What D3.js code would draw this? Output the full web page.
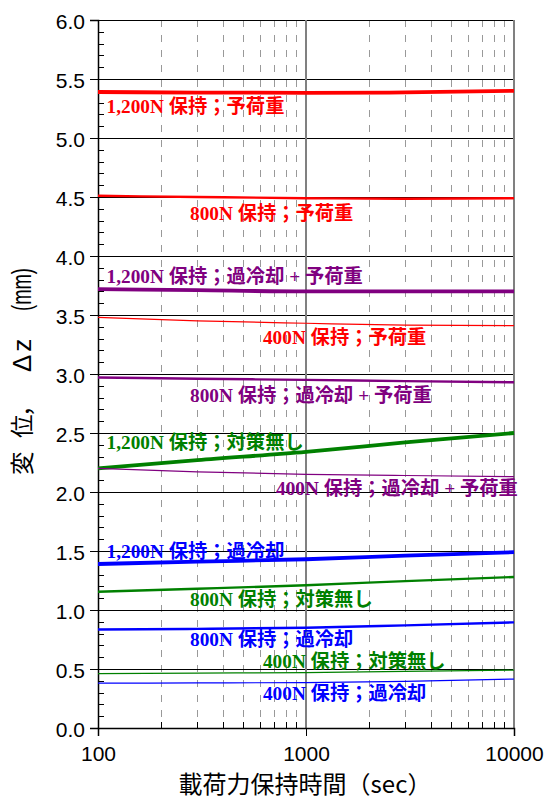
<!DOCTYPE html>
<html><head><meta charset="utf-8">
<script src="https://cdn.jsdelivr.net/npm/d3@7"></script>
<style>body{margin:0;background:#fff}</style>
</head><body><svg id="c" width="547" height="801"></svg>
<script>
// ---- data ----
const times = [100, 300, 1000, 3000, 10000];
const seriesLabels = [
  "1,200N 保持；予荷重",
  "800N 保持；予荷重",
  "1,200N 保持；過冷却 + 予荷重",
  "400N 保持；予荷重",
  "800N 保持；過冷却 + 予荷重",
  "1,200N 保持；対策無し",
  "400N 保持；過冷却 + 予荷重",
  "1,200N 保持；過冷却",
  "800N 保持；対策無し",
  "800N 保持；過冷却",
  "400N 保持；対策無し",
  "400N 保持；過冷却"
];
const seriesLoads = [1200, 800, 1200, 400, 800, 1200, 400, 1200, 800, 800, 400, 400];
const seriesConditions = ["予荷重","予荷重","過冷却+予荷重","予荷重","過冷却+予荷重","対策無し","過冷却+予荷重","過冷却","対策無し","過冷却","対策無し","過冷却"];
const seriesValues = [
  [5.39, 5.385, 5.383, 5.386, 5.40],
  [4.51, 4.50, 4.49, 4.485, 4.49],
  [3.72, 3.71, 3.70, 3.70, 3.70],
  [3.48, 3.45, 3.43, 3.415, 3.41],
  [2.97, 2.96, 2.95, 2.94, 2.93],
  [2.20, 2.27, 2.34, 2.42, 2.50],
  [2.20, 2.17, 2.15, 2.14, 2.13],
  [1.39, 1.41, 1.43, 1.46, 1.49],
  [1.155, 1.18, 1.21, 1.245, 1.28],
  [0.835, 0.84, 0.85, 0.87, 0.895],
  [0.46, 0.465, 0.47, 0.48, 0.49],
  [0.38, 0.382, 0.385, 0.395, 0.415]
];
// label anchors in data units (time, displacement)
const labelTimes = [110, 277, 110, 621, 277, 110, 718, 110, 277, 277, 621, 621];
const labelValues = [5.27, 4.36, 3.83, 3.31, 2.82, 2.42, 2.03, 1.50, 1.09, 0.75, 0.565, 0.295];
const xTicks = [100, 1000, 10000];
const xMinor = [200,300,400,500,600,700,800,900,2000,3000,4000,5000,6000,7000,8000,9000];
const yTicks = [0,0.5,1,1.5,2,2.5,3,3.5,4,4.5,5,5.5,6];
const xTitle = "載荷力保持時間（sec）";
const yTitleCJK = ["変", "位", "，"];
const yTitleSym = "Δz";
const yTitleUnit = "(mm)";

// ---- styles ----
const colorOf = {"予荷重":"#ff0000","過冷却+予荷重":"#800080","対策無し":"#008000","過冷却":"#0000ff"};
const widthOf = {1200:3.8, 800:2.4, 400:1.2};

const svg = d3.select("#c");
const L = 98, R = 514, T = 20, B = 728;
const x = d3.scaleLog().domain([100, 10000]).range([L, R]);
const y = d3.scaleLinear().domain([0, 6]).range([B, T]);
const px = v => Math.round(v) + 0.5;

// grid
const g = svg.append("g");
g.selectAll(".vd").data(xMinor).join("line")
  .attr("x1", d => px(x(d))).attr("x2", d => px(x(d))).attr("y1", T).attr("y2", B)
  .attr("stroke", "#999").attr("stroke-width", 1).attr("stroke-dasharray", "7,8");
g.selectAll(".hg").data(yTicks.filter(d => d > 0)).join("line")
  .attr("x1", L).attr("x2", R).attr("y1", d => px(y(d))).attr("y2", d => px(y(d)))
  .attr("stroke", "#000").attr("stroke-width", 1);
g.selectAll(".vs").data([1000, 10000]).join("line")
  .attr("x1", d => x(d)).attr("x2", d => x(d)).attr("y1", T).attr("y2", B)
  .attr("stroke", "#808080").attr("stroke-width", 2);

// minor inner ticks
const yMinor = d3.range(1, 60).map(i => i / 10).filter(v => Math.abs(v * 2 - Math.round(v * 2)) > 1e-6);
g.selectAll(".ym").data(yMinor).join("line")
  .attr("x1", L).attr("x2", L + 6).attr("y1", d => px(y(d))).attr("y2", d => px(y(d)))
  .attr("stroke", "#000").attr("stroke-width", 1);
g.selectAll(".xm").data(xMinor).join("line")
  .attr("x1", d => px(x(d))).attr("x2", d => px(x(d))).attr("y1", B).attr("y2", B - 6)
  .attr("stroke", "#000").attr("stroke-width", 1);

// axes
const yAxis = d3.axisLeft(y).tickValues(yTicks).tickSize(8).tickFormat(d3.format(".1f")).tickPadding(5);
const yg = svg.append("g").attr("transform", `translate(${L},0)`).call(yAxis);
yg.select(".domain").attr("stroke-width", 1.5);
yg.selectAll(".tick line").attr("shape-rendering", "crispEdges");
yg.selectAll("text").attr("font-family", "'Liberation Sans', Arial, sans-serif").attr("font-size", 21).attr("fill", "#000").attr("dy", "0.4em");
const xAxis = d3.axisBottom(x).tickValues(xTicks).tickSize(8).tickFormat(d3.format("d")).tickPadding(10);
const xg = svg.append("g").attr("transform", `translate(0,${B})`).call(xAxis);
xg.select(".domain").attr("stroke-width", 1.5);
xg.selectAll("text").attr("font-family", "'Liberation Sans', Arial, sans-serif").attr("font-size", 21).attr("fill", "#000").attr("dy", "0.7em");

// lines
const line = d3.line().x((d, i) => x(times[i])).y(d => y(d)).curve(d3.curveMonotoneX);
svg.append("g").selectAll("path").data(seriesValues).join("path")
  .attr("d", d => line(d))
  .attr("fill", "none")
  .attr("stroke", (d, i) => colorOf[seriesConditions[i]])
  .attr("stroke-width", (d, i) => widthOf[seriesLoads[i]]);

// labels
svg.append("g").selectAll("text").data(seriesLabels).join("text")
  .attr("x", (d, i) => x(labelTimes[i]))
  .attr("y", (d, i) => y(labelValues[i]))
  .attr("dy", "0.36em")
  .attr("fill", (d, i) => colorOf[seriesConditions[i]])
  .attr("font-family", "'Liberation Serif', 'Noto Sans CJK JP', serif")
  .attr("font-weight", "bold")
  .attr("font-size", 19.3)
  .text(d => d);

// titles
svg.append("text").attr("x", 305).attr("y", 793).attr("text-anchor", "middle")
  .attr("font-family", "'Noto Sans CJK JP', sans-serif").attr("font-size", 24).text(xTitle);
const yt = svg.append("g").attr("transform", "translate(31,475) rotate(-90)");
const cjkOffsets = [0, 37, 58];
yt.selectAll(".cj").data(yTitleCJK).join("text")
  .attr("x", (d, i) => cjkOffsets[i])
  .attr("font-family", "'Noto Sans CJK JP', sans-serif").attr("font-size", 23.5)
  .text(d => d);
yt.append("text").attr("x", 103).attr("font-family", "'Liberation Sans', sans-serif").attr("font-size", 26)
  .attr("letter-spacing", 3).text(yTitleSym);
yt.append("text").attr("x", 164).attr("font-family", "'Liberation Sans', sans-serif").attr("font-size", 27)
  .attr("textLength", 43).attr("lengthAdjust", "spacingAndGlyphs").text(yTitleUnit);
</script></body></html>
